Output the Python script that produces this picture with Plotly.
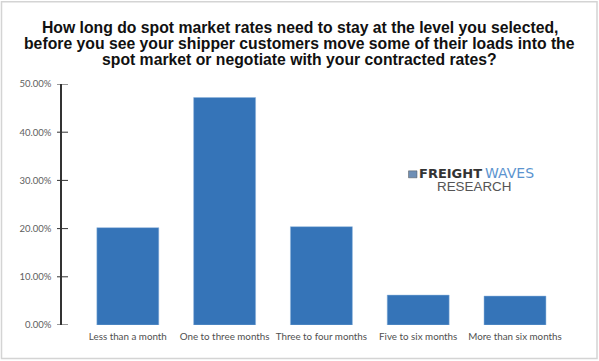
import plotly.graph_objects as go

categories = ["Less than a month", "One to three months", "Three to four months",
              "Five to six months", "More than six months"]
values = [20.2, 47.2, 20.4, 6.2, 6.0]
tick_vals = [0, 10, 20, 30, 40, 50]
tick_text = ["0.00%", "10.00%", "20.00%", "30.00%", "40.00%", "50.00%"]
title_lines = ["How long do spot market rates need to stay at the level you selected,",
               "before you see your shipper customers move some of their loads into the",
               "spot market or negotiate with your contracted rates?"]

W, H = 599, 361
L, R, T, B = 62, 36, 84, 35.5
PW, PH = W - L - R, H - T - B

def px(x):
    return (x - L) / PW

def py(y):
    return (H - B - y) / PH

title_ann = [
    dict(xref="paper", yref="paper", x=px(299.5), y=py(yc), xanchor="center", yanchor="middle",
         showarrow=False, text="<b>" + line + "</b>",
         font=dict(family="Liberation Sans, Arial, sans-serif", size=15.75, color="#111111"))
    for line, yc in zip(title_lines, [27, 43, 59])
]

fig = go.Figure(go.Bar(
    x=list(range(5)), y=values, width=0.64,
    marker=dict(color="#3574B8", line=dict(color="#8FB4DD", width=0.5)),
    hoverinfo="skip",
))
fig.update_layout(
    width=W, height=H, autosize=False,
    margin=dict(l=L, r=R, t=T, b=B, pad=0),
    paper_bgcolor="white", plot_bgcolor="white",
    showlegend=False,
    font=dict(family="Lato, Open Sans, sans-serif", color="#595959", size=10),
    xaxis=dict(
        range=[-0.68, 4.496], tickmode="array", tickvals=list(range(5)), ticktext=categories,
        showgrid=False, zeroline=False, showline=False,
        ticks="outside", ticklen=2, tickcolor="rgba(0,0,0,0)",
        tickangle=0, automargin=False,
        tickfont=dict(size=9.8, color="#505050"),
    ),
    yaxis=dict(
        range=[0, 50], tickmode="array", tickvals=tick_vals, ticktext=tick_text,
        showgrid=False, zeroline=False, showline=True, linecolor="#333333", linewidth=1.5,
        ticks="outside", ticklen=7, tickcolor="rgba(0,0,0,0)", automargin=False,
        tickfont=dict(size=9.5, color="#606060"),
    ),
    annotations=title_ann + [
        dict(xref="paper", yref="paper", x=px(419), y=py(173.5),
             xanchor="left", yanchor="middle", showarrow=False, xshift=-2,
             text="<b>FREIGHT</b>",
             font=dict(family="DejaVu Sans, sans-serif", size=13, color="#333333")),
        dict(xref="paper", yref="paper", x=px(485), y=py(173.5),
             xanchor="left", yanchor="middle", showarrow=False, xshift=-2,
             text="WAVES",
             font=dict(family="DejaVu Sans, sans-serif", size=14, color="#5B94CF")),
        dict(xref="paper", yref="paper", x=px(473.5), y=py(186.5),
             xanchor="center", yanchor="middle", showarrow=False, text="RESEARCH",
             font=dict(family="Liberation Sans, Arial, sans-serif", size=13.4, color="#555555")),
    ],
    shapes=[
        dict(type="rect", xref="paper", yref="paper",
             x0=px(1.5), x1=px(597), y0=py(359), y1=py(1.5),
             line=dict(color="#D4D4D4", width=1.5), layer="below"),
        dict(type="rect", xref="paper", yref="paper",
             x0=px(408.5), x1=px(417), y0=py(178), y1=py(171),
             fillcolor="#6F8FB5", line=dict(color="#555555", width=0.5)),
    ] + [
        dict(type="line", xref="paper", yref="y", x0=px(57), x1=px(68), y0=v, y1=v,
             line=dict(color="#333333", width=1))
        for v in tick_vals
    ],
)
fig.write_html("out.html", config=dict(displayModeBar=False),
               post_script="document.body.style.margin='0';")
